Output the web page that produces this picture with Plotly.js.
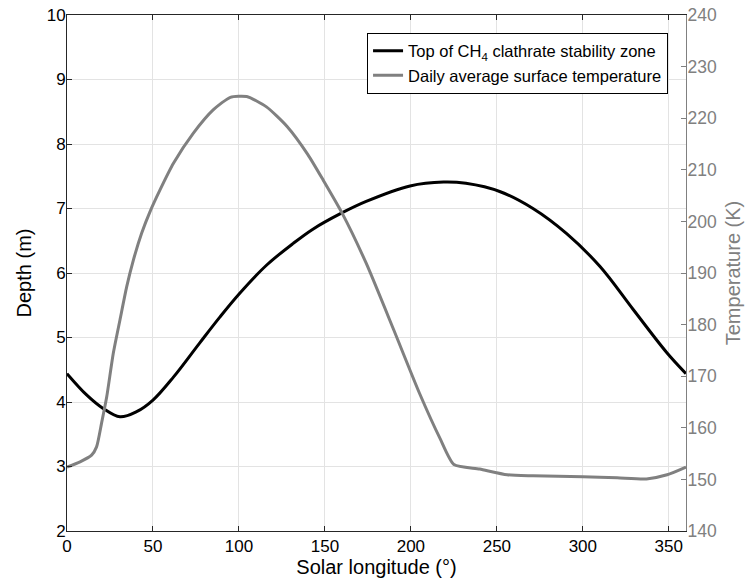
<!DOCTYPE html>
<html>
<head>
<meta charset="utf-8">
<script src="https://cdn.plot.ly/plotly-3.0.1.min.js"></script>
<style>html,body{margin:0;padding:0;background:#fff;}#chart{width:751px;height:580px;}</style>
</head>
<body>
<div id="chart"></div>
<script>
// Top of CH4 clathrate stability zone (depth, m) vs solar longitude
const depthLs = [0, 11.4, 21, 30.8, 40.5, 50, 62, 77, 89, 100.6, 116, 131.6, 143, 159, 174, 199.5, 219, 232, 252, 271, 290.6, 310, 329.4, 349, 360];
const depthVals = [4.44, 4.11, 3.90, 3.77, 3.85, 4.03, 4.39, 4.91, 5.32, 5.69, 6.12, 6.46, 6.68, 6.92, 7.11, 7.35, 7.41, 7.39, 7.26, 7.00, 6.61, 6.10, 5.43, 4.76, 4.44];

// Daily average surface temperature (K) vs solar longitude
const tempLs = [0, 7.6, 14.3, 17.2, 20.1, 23.1, 26.9, 30.8, 34.7, 38.6, 43.4, 48.3, 54.1, 62, 73.5, 85, 95, 104.5, 116, 128, 140, 149, 160, 174, 190, 205, 217, 225, 240, 256, 271, 300, 320, 337, 349, 360];
const tempVals = [152.4, 153.4, 154.7, 156.3, 160.9, 166.0, 174.4, 180.9, 187.3, 192.5, 197.7, 201.9, 206.1, 211.3, 217.1, 221.6, 224.05, 224.2, 222.2, 218.4, 213.0, 208.0, 201.6, 191.9, 179.0, 166.7, 157.9, 152.9, 152.0, 150.9, 150.7, 150.5, 150.3, 150.1, 150.9, 152.4];

const xTicks = [0, 50, 100, 150, 200, 250, 300, 350];
const depthTicks = [2, 3, 4, 5, 6, 7, 8, 9, 10];
const tempTicks = [140, 150, 160, 170, 180, 190, 200, 210, 220, 230, 240];

const seriesNames = ['Top of CH<sub>4</sub> clathrate stability zone', 'Daily average surface temperature'];

const FONT = 'Liberation Sans, Arial, Helvetica, sans-serif';
const GRAY = '#808080';

const traces = [
  {x: depthLs, y: depthVals, type: 'scatter', mode: 'lines', name: seriesNames[0],
   legendgroup: 'a', line: {color: '#000000', width: 3, shape: 'spline', smoothing: 1}, yaxis: 'y'},
  {x: tempLs, y: tempVals, type: 'scatter', mode: 'lines', name: seriesNames[1],
   legendgroup: 'b', line: {color: GRAY, width: 3, shape: 'spline', smoothing: 0.6}, yaxis: 'y2'}
];

const layout = {
  width: 751, height: 580,
  margin: {l: 67, r: 65, t: 15, b: 49},
  paper_bgcolor: '#fff', plot_bgcolor: '#fff',
  font: {family: FONT, size: 17, color: '#000'},
  showlegend: true,
  legend: {x: 0.971, xanchor: 'right', y: 0.966, yanchor: 'top',
           bgcolor: '#fff', bordercolor: '#000', borderwidth: 1,
           font: {family: FONT, size: 16.5, color: '#000'},
           traceorder: 'grouped', tracegroupgap: 0},
  xaxis: {range: [0, 360], tickvals: xTicks, ticktext: xTicks.map(String),
          ticks: 'inside', ticklen: 5, tickcolor: '#262626', tickwidth: 1,
          showline: true, linecolor: '#262626', linewidth: 1, mirror: 'ticks',
          showgrid: true, gridcolor: '#e3e3e3', gridwidth: 1, zeroline: false,
          tickfont: {family: FONT, size: 17, color: '#000'},
          title: {text: 'Solar longitude (°)', font: {family: FONT, size: 20, color: '#000'}, standoff: 1}},
  yaxis: {range: [2, 10], tickvals: depthTicks, ticktext: depthTicks.map(String),
          ticks: 'inside', ticklen: 5, tickcolor: '#262626', tickwidth: 1,
          showline: true, linecolor: '#262626', linewidth: 1, ticklabelstandoff: -3,
          showgrid: true, gridcolor: '#e3e3e3', gridwidth: 1, zeroline: false,
          tickfont: {family: FONT, size: 17, color: '#000'},
          title: {text: 'Depth (m)', font: {family: FONT, size: 20, color: '#000'}, standoff: 9}},
  yaxis2: {range: [140, 240], tickvals: tempTicks, ticktext: tempTicks.map(String),
          overlaying: 'y', side: 'right',
          ticks: 'inside', ticklen: 5, tickcolor: GRAY, tickwidth: 1,
          showline: true, linecolor: GRAY, linewidth: 1, ticklabelstandoff: -3,
          showgrid: false, zeroline: false,
          tickfont: {family: FONT, size: 17.5, color: GRAY},
          title: {text: 'Temperature (K)', font: {family: FONT, size: 20, color: GRAY}, standoff: 10}}
};

Plotly.newPlot('chart', traces, layout, {displayModeBar: false, responsive: false});
</script>
</body>
</html>
